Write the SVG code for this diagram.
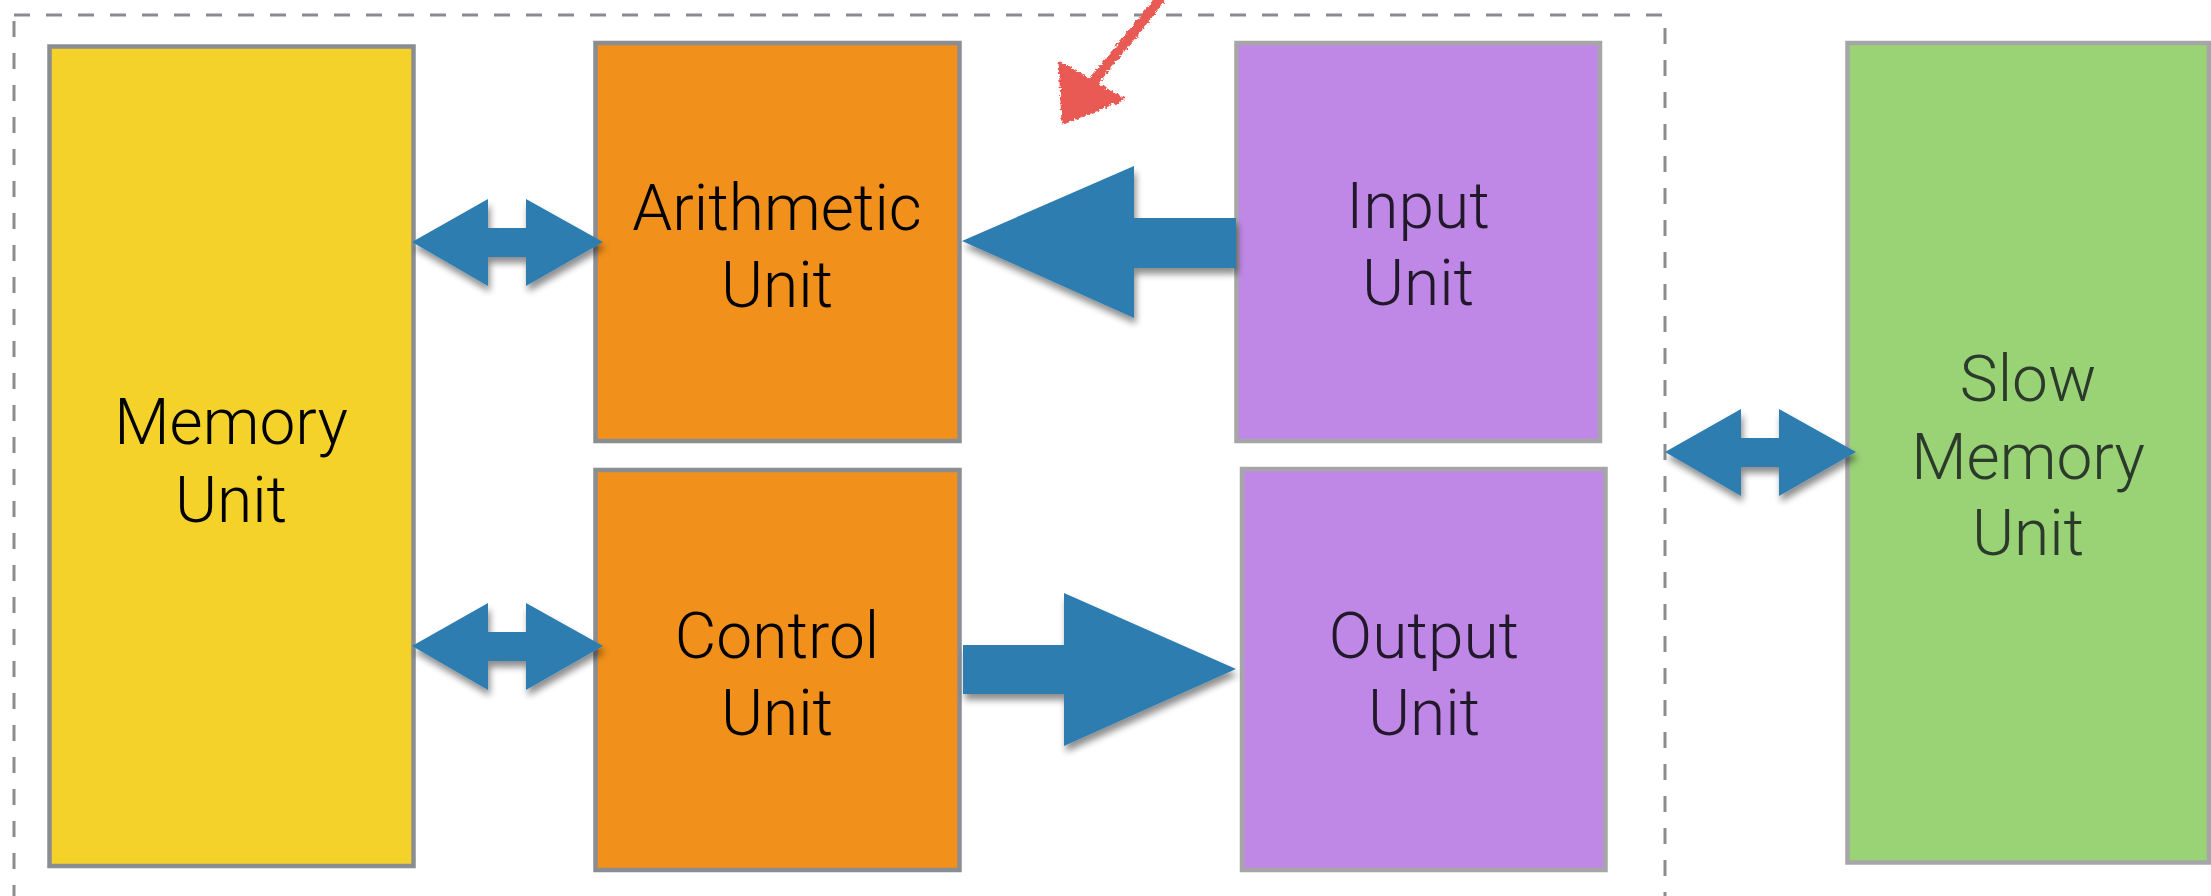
<svg xmlns="http://www.w3.org/2000/svg" width="2211" height="896" viewBox="0 0 2211 896">
  <defs>
    <style>
      .box { stroke-width: 4.5; }
      .dark { stroke: #8a8d91; }
      .light { stroke: #a6a6a9; }
      .label { font-family: Roboto, "Open Sans", "Liberation Sans", sans-serif; font-weight: 300; font-size: 64px; text-anchor: middle; }
      .flow { fill: #2e7db1; filter: url(#shadow); }
      .frame { fill: none; stroke: #8a8c90; stroke-width: 3; stroke-dasharray: 16 16; }
    </style>
    <filter id="shadow" x="-20%" y="-30%" width="140%" height="170%">
      <feGaussianBlur in="SourceAlpha" stdDeviation="3.5"/>
      <feOffset dx="2" dy="6" result="b"/>
      <feComponentTransfer><feFuncA type="linear" slope="0.45"/></feComponentTransfer>
      <feMerge><feMergeNode/><feMergeNode in="SourceGraphic"/></feMerge>
    </filter>
    <filter id="chalk" x="-20%" y="-20%" width="140%" height="140%">
      <feTurbulence type="fractalNoise" baseFrequency="0.35" numOctaves="2" seed="4" result="n"/>
      <feDisplacementMap in="SourceGraphic" in2="n" scale="6" xChannelSelector="R" yChannelSelector="G"/>
    </filter>
  </defs>

  <!-- processor boundary -->
  <rect class="frame" x="14" y="15" width="1651" height="920"/>

  <g id="memory-unit">
    <rect class="box dark" x="49.5" y="46.5" width="364" height="819.5" fill="#f5d22a"/>
    <text class="label" fill="#000" x="231" y="444">Memory</text>
    <text class="label" fill="#000" x="231" y="522">Unit</text>
  </g>

  <g id="arithmetic-unit">
    <rect class="box dark" x="595.5" y="43" width="364" height="398" fill="#f1901b"/>
    <text class="label" fill="#000" x="777" y="230">Arithmetic</text>
    <text class="label" fill="#000" x="777" y="307">Unit</text>
  </g>

  <g id="control-unit">
    <rect class="box dark" x="595.5" y="470" width="364" height="400" fill="#f1901b"/>
    <text class="label" fill="#000" x="777" y="658">Control</text>
    <text class="label" fill="#000" x="777" y="735">Unit</text>
  </g>

  <g id="input-unit">
    <rect class="box light" x="1236.5" y="43" width="363.5" height="398" fill="#c088e6"/>
    <text class="label" fill="#21182a" x="1418" y="228">Input</text>
    <text class="label" fill="#21182a" x="1418" y="305">Unit</text>
  </g>

  <g id="output-unit">
    <rect class="box light" x="1242" y="469" width="363.5" height="401" fill="#c088e6"/>
    <text class="label" fill="#21182a" x="1424" y="658">Output</text>
    <text class="label" fill="#21182a" x="1424" y="735">Unit</text>
  </g>

  <g id="slow-memory-unit">
    <rect class="box light" x="1847.5" y="43" width="361.5" height="819.5" fill="#9ad276"/>
    <text class="label" fill="#2c3a2c" x="2028" y="401">Slow</text>
    <text class="label" fill="#2c3a2c" x="2028" y="479">Memory</text>
    <text class="label" fill="#2c3a2c" x="2028" y="555">Unit</text>
  </g>

  <g id="connectors">
    <!-- memory <-> arithmetic -->
    <polygon class="flow" points="412,242 488,199 488,228 526,228 526,199 603,242 526,286 526,257 488,257 488,286"/>
    <!-- memory <-> control -->
    <polygon class="flow" points="412,646 488,603 488,632 526,632 526,603 603,646 526,690 526,661 488,661 488,690"/>
    <!-- input -> arithmetic -->
    <polygon class="flow" points="962,241 1134,166 1134,218 1236,218 1236,268 1134,268 1134,318"/>
    <!-- control -> output -->
    <polygon class="flow" points="963,645 1064,645 1064,593 1236,669 1064,746 1064,694 963,694"/>
    <!-- processor <-> slow memory -->
    <polygon class="flow" points="1665,452 1741,409 1741,438 1779,438 1779,409 1856,452 1779,496 1779,467 1741,467 1741,496"/>
    <!-- hand-drawn pointer -->
    <g filter="url(#chalk)" fill="#ea5a55" stroke="#ea5a55">
      <path d="M1162,-4 C1145,20 1118,50 1092,84" fill="none" stroke-width="10" stroke-linecap="round"/>
      <polygon points="1060,63 1123,99 1063,123" stroke-width="3" stroke-linejoin="round"/>
    </g>
  </g>
</svg>
